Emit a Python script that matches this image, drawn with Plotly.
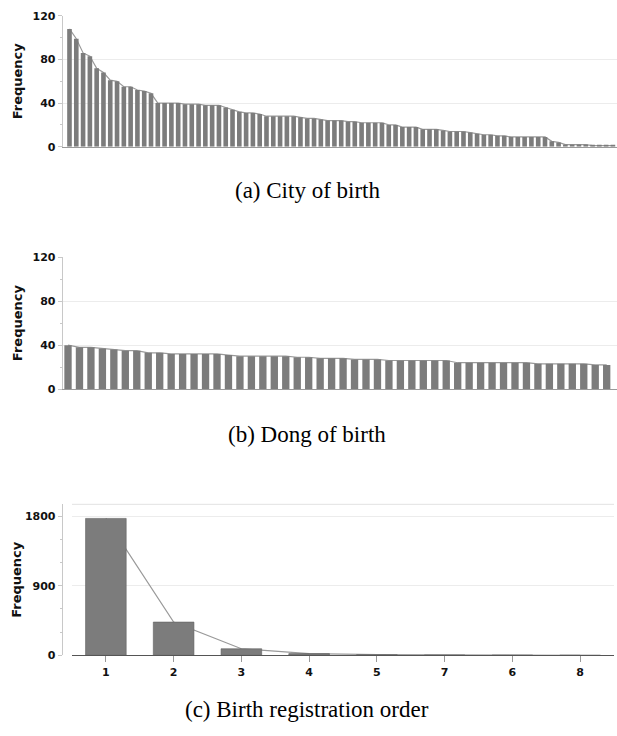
import plotly.graph_objects as go

# ---------------- data ----------------
city_freq = [108, 99, 86, 83, 72, 68, 61, 60, 55, 55, 52, 51, 49,
             40, 40, 40, 40, 39, 39,
             39, 38, 38, 38,
             36, 34,
             32, 31, 31, 30,
             28, 28, 28, 28, 28,
             27, 26, 26,
             25, 24, 24, 24,
             23, 23,
             22, 22, 22, 22,
             20, 20,
             18, 18, 18,
             16, 16, 16, 15,
             14, 14, 14, 13,
             12,
             11, 11, 10, 10,
             9, 9, 9, 9, 9, 9,
             5, 4,
             2, 2, 2, 2,
             1, 1, 1, 1]

dong_freq = [40, 38, 38, 37, 36, 35, 35, 33, 33, 32, 32, 32, 32, 32, 31,
             30, 30, 30, 30, 30, 29, 29, 28, 28, 28, 27, 27, 27,
             26, 26, 26, 26, 26, 26, 24, 24, 24, 24, 24, 24, 24,
             23, 23, 23, 23, 23, 22, 22]

order_labels = ["1", "2", "3", "4", "5", "7", "6", "8"]
order_freq = [1770, 430, 85, 22, 8, 4, 2, 1]

captions = ["(a) City of birth", "(b) Dong of birth", "(c) Birth registration order"]

# ---------------- style ----------------
W, H = 617, 736
BAR = "#7c7c7c"
BAR_EDGE = "#626262"
LINE = "#9a9a9a"
GRID = "#ececec"
AXL = "#c8c8c8"
tickfont = dict(family="DejaVu Sans", size=11, color="#111", weight="bold")


def fy(px):
    return 1 - px / H


fig = go.Figure()

city_x = list(range(len(city_freq)))
dong_x = list(range(len(dong_freq)))

# lines (under the bars, on base axes)
fig.add_trace(go.Scatter(x=city_x, y=city_freq, mode="lines",
                         line=dict(color=LINE, width=1.2), xaxis="x", yaxis="y",
                         hoverinfo="skip"))
fig.add_trace(go.Scatter(x=dong_x, y=dong_freq, mode="lines",
                         line=dict(color=LINE, width=1.2), xaxis="x2", yaxis="y2",
                         hoverinfo="skip"))
fig.add_trace(go.Scatter(x=order_labels, y=order_freq, mode="lines",
                         line=dict(color=LINE, width=1.2), xaxis="x3", yaxis="y3",
                         hoverinfo="skip"))

# bars (overlay axes so that they cover the lines)
fig.add_trace(go.Bar(x=city_x, y=city_freq, width=0.68,
                     marker=dict(color=BAR, line=dict(width=0)),
                     xaxis="x", yaxis="y4"))
fig.add_trace(go.Bar(x=dong_x, y=dong_freq, width=0.64,
                     marker=dict(color=BAR, line=dict(width=0)),
                     xaxis="x2", yaxis="y5"))
fig.add_trace(go.Bar(x=order_labels, y=order_freq, width=0.6,
                     marker=dict(color=BAR, line=dict(color=BAR_EDGE, width=0.6)),
                     xaxis="x3", yaxis="y6"))

dom_a = [fy(143.3), fy(10)]
dom_b = [fy(390), fy(255.7)]
dom_c = [fy(661), fy(507.3)]

yaxis_common = dict(showgrid=True, gridcolor=GRID, gridwidth=1, zeroline=False,
                    showline=True, linecolor=AXL, linewidth=1,
                    ticks="outside", ticklen=4, tickcolor=AXL,
                    tickfont=tickfont)

fig.update_layout(
    width=W, height=H, margin=dict(l=0, r=0, t=0, b=0),
    paper_bgcolor="white", plot_bgcolor="white", showlegend=False,
    barmode="overlay",
    xaxis=dict(domain=[62.7 / W, 1], range=[-1.0, 80.6], anchor="y",
               showticklabels=False, ticks="", showgrid=False, zeroline=False,
               showline=True, linecolor="#9a9a9a"),
    yaxis=dict(domain=dom_a, range=[0, 120], tickvals=[0, 40, 80, 120],
               minor=dict(dtick=20, ticks="outside", ticklen=2, tickcolor=AXL, showgrid=False),
               **yaxis_common),
    xaxis2=dict(domain=[59.3 / W, 1], range=[-0.76, 47.9], anchor="y2",
                showticklabels=False, ticks="", showgrid=False, zeroline=False,
                showline=True, linecolor="#9a9a9a"),
    yaxis2=dict(domain=dom_b, range=[0, 120], tickvals=[0, 40, 80, 120],
                minor=dict(dtick=20, ticks="outside", ticklen=2, tickcolor=AXL, showgrid=False),
                **yaxis_common),
    xaxis3=dict(domain=[72 / W, 614 / W], anchor="y3", type="category",
                range=[-0.5, 7.5], showgrid=False, zeroline=False,
                showline=True, linecolor="#555555",
                ticks="outside", ticklen=6, tickcolor="#999", tickfont=tickfont),
    yaxis3=dict(domain=dom_c, range=[0, 1952], tickvals=[0, 900, 1800],
                minor=dict(dtick=300, ticks="outside", ticklen=2, tickcolor=AXL, showgrid=False),
                **yaxis_common),
    yaxis4=dict(overlaying="y", range=[0, 120], visible=False, showgrid=False),
    yaxis5=dict(overlaying="y2", range=[0, 120], visible=False, showgrid=False),
    yaxis6=dict(overlaying="y3", range=[0, 1952], visible=False, showgrid=False),
)

# top frame line of panel (c)
fig.add_shape(type="line", xref="x3 domain", yref="y3 domain", x0=0, x1=1, y0=1, y1=1,
              line=dict(color="#e2e2e2", width=1))

# y-axis titles
for dom in (dom_a, dom_b, dom_c):
    fig.add_annotation(text="Frequency", textangle=-90, xref="paper", yref="paper",
                       x=17 / W, y=(dom[0] + dom[1]) / 2, showarrow=False,
                       xanchor="center", yanchor="middle",
                       font=dict(family="DejaVu Sans", size=13, color="#111", weight="bold"))

# captions
for text, ypx in zip(captions, (188, 436, 716)):
    fig.add_annotation(text=text, xref="paper", yref="paper", x=307 / W, y=fy(ypx),
                       showarrow=False, xanchor="center", yanchor="middle",
                       font=dict(family="Liberation Serif", size=23, color="#000"))

fig.write_html("out.html")
